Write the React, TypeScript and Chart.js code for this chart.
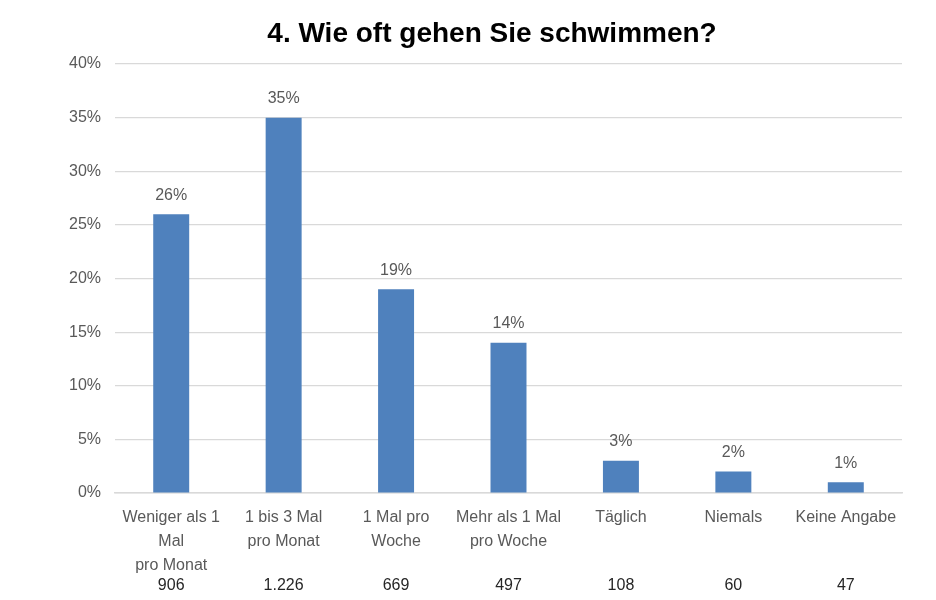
import React, { useEffect, useRef } from "react";
import { Chart, registerables } from "chart.js";

Chart.register(...registerables);

const categories: string[][] = [
  ["Weniger als 1", "Mal", "pro Monat"],
  ["1 bis 3 Mal", "pro Monat"],
  ["1 Mal pro", "Woche"],
  ["Mehr als 1 Mal", "pro Woche"],
  ["Täglich"],
  ["Niemals"],
  ["Keine Angabe"],
];
const percentages: number[] = [26, 35, 19, 14, 3, 2, 1];
const counts: string[] = ["906", "1.226", "669", "497", "108", "60", "47"];
const titleText = "4. Wie oft gehen Sie schwimmen?";

const FONT = "'Liberation Sans', Arial, sans-serif";
const GREY = "#595959";

const labelsPlugin = {
  id: "extraLabels",
  afterDatasetsDraw(chart: any) {
    const ctx = chart.ctx;
    const meta = chart.getDatasetMeta(0);
    const xScale = chart.scales.x;
    ctx.save();
    ctx.font = `16px ${FONT}`;
    ctx.textAlign = "center";
    ctx.textBaseline = "middle";
    meta.data.forEach((bar: any, i: number) => {
      ctx.fillStyle = GREY;
      ctx.fillText(percentages[i] + "%", bar.x, bar.y - 19);
      ctx.fillStyle = "#262626";
      ctx.fillText(counts[i], xScale.getPixelForValue(i), 586);
    });
    // title
    ctx.fillStyle = "#000000";
    ctx.font = `bold 28px ${FONT}`;
    ctx.textBaseline = "alphabetic";
    ctx.fillText(titleText, 492, 42);
    ctx.restore();
  },
};

export default function App() {
  const ref = useRef<HTMLCanvasElement>(null);
  useEffect(() => {
    document.body.style.margin = "0";
    if (!ref.current) return;
    const chart = new Chart(ref.current, {
      type: "bar",
      data: {
        labels: categories,
        datasets: [
          {
            data: percentages,
            backgroundColor: "#4F81BD",
            barPercentage: 0.32,
            categoryPercentage: 1,
          },
        ],
      },
      options: {
        animation: false,
        responsive: false,
        devicePixelRatio: 1,
        layout: { padding: { left: 0, right: 34, top: 64, bottom: 0 } },
        plugins: {
          legend: { display: false },
          tooltip: { enabled: false },
          title: { display: false },
        },
        scales: {
          x: {
            grid: { display: false, drawTicks: false },
            border: { display: true, color: "#D9D9D9", width: 1.5 },
            ticks: {
              color: GREY,
              font: { family: FONT, size: 16, lineHeight: 1.5 },
              padding: 13,
              maxRotation: 0,
              autoSkip: false,
            },
            afterFit(scale: any) {
              scale.height = 107;
            },
          },
          y: {
            min: 0,
            max: 40,
            ticks: {
              stepSize: 5,
              color: GREY,
              font: { family: FONT, size: 16 },
              padding: 14,
              callback: (v: any) => v + "%",
            },
            grid: { color: "#D9D9D9", lineWidth: 1.2, drawTicks: false },
            border: { display: false },
            afterFit(scale: any) {
              scale.width = 115;
            },
          },
        },
      },
      plugins: [labelsPlugin],
    });
    return () => chart.destroy();
  }, []);
  return (
    <div style={{ width: 936, height: 600, background: "#fff" }}>
      <canvas ref={ref} width={936} height={600} />
    </div>
  );
}
